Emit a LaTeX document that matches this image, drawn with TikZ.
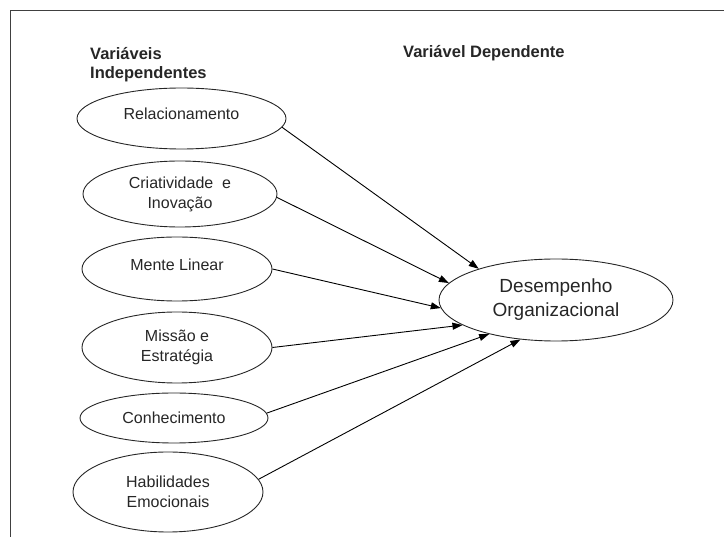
\documentclass[tikz,border=0pt]{standalone}
\usepackage{fontspec}
\setmainfont{Liberation Sans}
\usepackage{tikz}
\usetikzlibrary{arrows.meta,shapes.geometric}

\begin{document}
\begin{tikzpicture}[x=1pt, y=-1pt,
  var/.style={draw=black!85, line width=0.9pt, ellipse, inner sep=0pt,
    align=center, font=\fontsize{16}{20}\selectfont, text=black!85},
  upper/.style={text depth=9pt},
  head/.style={inner sep=0pt, align=left,
    font=\fontsize{16.5}{19}\selectfont\bfseries, text=black!85},
  arr/.style={line width=0.9pt, -{Triangle[length=10pt, width=7pt]}}
]
\useasboundingbox (0,0) rectangle (724,537);

% Frame
\draw[line width=1pt, black!75] (10,537) -- (10,11) -- (724,11);

% Headings
\node[head, anchor=north west] (hind) at (90,47.5)
  {Variáveis\\Independentes};
\node[head, anchor=base west] (hdep) at (403,58) {Variável Dependente};

% Independent variables
\node[var, upper, minimum width=209, minimum height=61] (rel) at (181.5,118.5)
  {Relacionamento};
\node[var, minimum width=194, minimum height=66] (cri) at (180,194)
  {Criatividade\ \ e\\Inovação};
\node[var, upper, minimum width=190, minimum height=64] (men) at (177,269)
  {Mente Linear};
\node[var, minimum width=190, minimum height=71] (mis) at (177,347.5)
  {Missão e\\Estratégia};
\node[var, minimum width=188, minimum height=50] (con) at (174,418)
  {Conhecimento};
\node[var, minimum width=190, minimum height=80] (hab) at (168,492)
  {Habilidades\\Emocionais};

% Dependent variable
\node[var, minimum width=234, minimum height=82,
  font=\fontsize{19}{24}\selectfont] (des) at (556,300)
  {Desempenho\\Organizacional};

% Arrows
\draw[arr] (rel.-5) -- (des.158);
\draw[arr] (cri.-2) -- (des.171);
\draw[arr] (men.0) -- (des.184);
\draw[arr] (mis.0) -- (des.195);
\draw[arr] (con.3) -- (des.207);
\draw[arr] (hab.8) -- (des.228);

\end{tikzpicture}
\end{document}
